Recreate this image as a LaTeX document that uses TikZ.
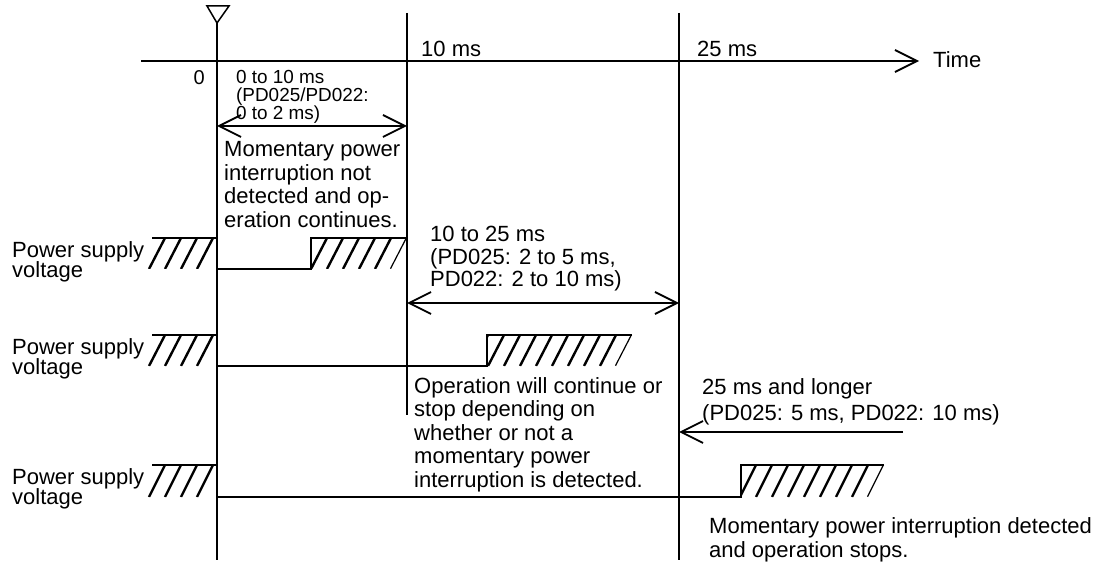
\documentclass[tikz,border=0pt]{standalone}
\usepackage{fontspec}
\setmainfont{Liberation Sans}
\usetikzlibrary{arrows.meta}

\begin{document}
\begin{tikzpicture}[x=1pt,y=-1pt,>={Straight Barb[length=22pt,width=22pt]},
    every node/.style={inner sep=0pt,align=left},
    txt/.style={font={\fontsize{22}{#1}\selectfont\lineskiplimit-10pt\relax}},
    small/.style={font={\fontsize{18.9}{18}\selectfont\lineskiplimit-10pt\relax}},
    guide/.style={line width=1.1pt},
    sig/.style={line width=2.4pt},
    hatch/.style={line width=2.4pt},
    arr/.style={line width=1.8pt}]
    \useasboundingbox (0,0) rectangle (1096,564);
    % time marks
    \coordinate (mark) at (217,23);
    \coordinate (t0end) at (217,560);
    \coordinate (t10top) at (407,13);
    \coordinate (t10end) at (407,415);
    \coordinate (t25top) at (679,13);
    \coordinate (t25end) at (679,560);
    \coordinate (axisstart) at (141,61);
    \coordinate (axisend) at (919,61);
    \draw[guide] (mark)--(t0end);
    \draw[guide] (t10top)--(t10end);
    \draw[guide] (t25top)--(t25end);
    \draw[line width=1.5pt,line join=miter] (207,6)--(229,6)--(mark)--cycle;
    \draw[arr,->] (axisstart)--(axisend);
    \node[font=\fontsize{20}{22}\selectfont,anchor=base east] (zero) at (205,85) {0};
    \node[txt=23.5,anchor=base west] (ten) at (421,57) {10 ms};
    \node[txt=23.5,anchor=base west] (twentyfive) at (697,57) {25 ms};
    \node[txt=23.5,anchor=base west] (time) at (933,68) {Time};
    % signals
    \foreach \yh/\yl/\xr/\xe in {238/269/311/407,335/366/487/632,465/497/741/884}{
      \draw[sig] (152,\yh)--(217,\yh)--(217,\yl)--(\xr,\yl)--(\xr,\yh)--(\xe,\yh);
      \begin{scope}
        \clip (152,\yh)--(217,\yh)--(217,\yl)--(134,\yl)--cycle;
        \foreach \k in {0,...,3} \draw[hatch] (213-16*\k,\yh)--(197-16*\k,\yl);
      \end{scope}
      \begin{scope}
        \clip (\xr,\yh)--(\xe,\yh)--(\xe-16,\yl)--(\xr,\yl)--cycle;
        \foreach \k in {0,...,10} \draw[hatch] (\xe-16*\k,\yh)--(\xe-16-16*\k,\yl);
      \end{scope}
    }
    \foreach \i/\y in {1/241.2,2/338.2,3/468.2}
      \node[txt=20.5,anchor=north west] (psv\i) at (12,\y) {Power supply\\voltage};
    % ranges
    \coordinate (a0) at (217,126);
    \coordinate (a10) at (407,126);
    \coordinate (b10) at (407,303);
    \coordinate (b25) at (679,303);
    \coordinate (c25) at (679,432);
    \coordinate (cend) at (903,432);
    \draw[arr,<->] (a0)--(a10);
    \draw[arr,<->] (b10)--(b25);
    \draw[arr,->] (cend)--(c25);
    \node[small,anchor=north west] (short) at (236,70.5) {0 to 10 ms\\(PD025/PD022:\\0 to 2 ms)};
    \node[txt=23.7,anchor=north west] (nodetect) at (224,141.2) {Momentary power\\interruption not\\detected and op-\\eration continues.};
    \node[txt=22.5,anchor=north west] (mid) at (430,226.2) {10 to 25 ms\\(PD025: 2 to 5 ms,\\PD022: 2 to 10 ms)};
    \node[txt=23.5,anchor=north west] (depends) at (414,377.2) {Operation will continue or\\stop depending on\\whether or not a\\momentary power\\interruption is detected.};
    \node[txt=26,anchor=north west] (long) at (702,378.2) {25 ms and longer\\(PD025: 5 ms, PD022: 10 ms)};
    \node[txt=24,anchor=north west] (stops) at (709,517.2) {Momentary power interruption detected\\and operation stops.};
  \end{tikzpicture}
\end{document}
